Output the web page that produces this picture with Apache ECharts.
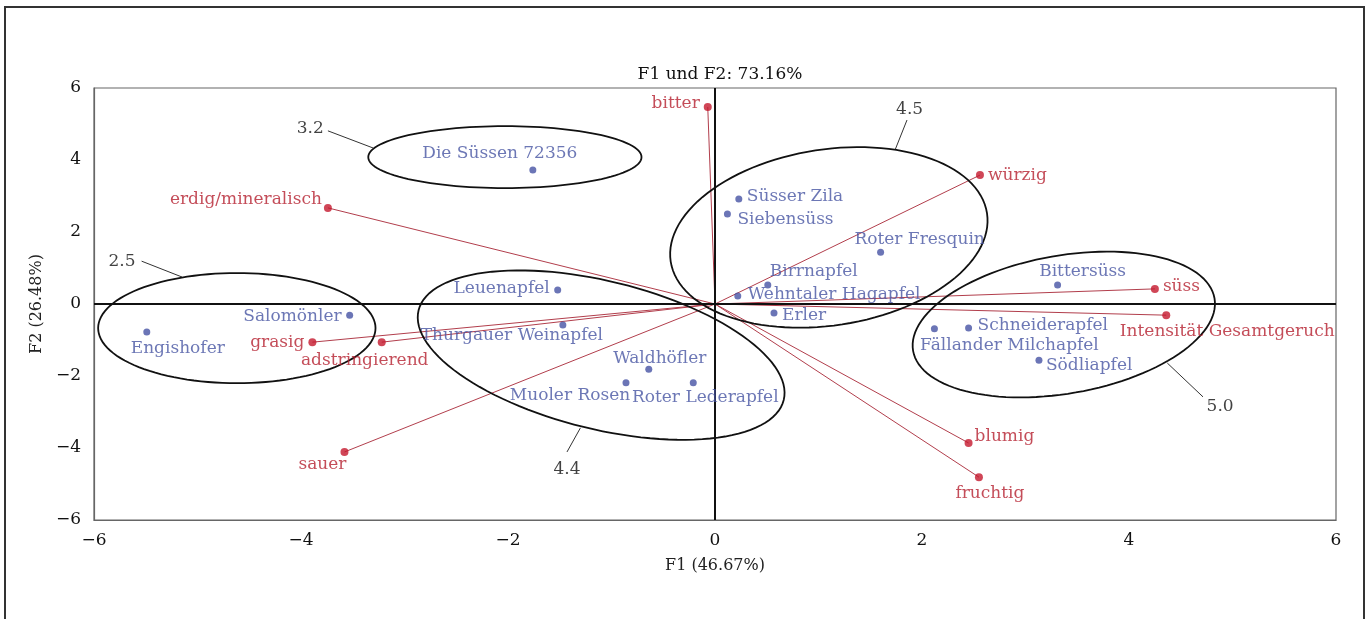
<!DOCTYPE html>
<html>
<head>
<meta charset="utf-8">
<script src="https://cdn.jsdelivr.net/npm/echarts@6/dist/echarts.min.js"></script>
<style>
  html, body { margin: 0; padding: 0; background: #fff; }
  #chart { width: 1371px; height: 619px; }
</style>
</head>
<body>
<div id="chart"></div>
<script>
// Sensory attributes (loadings, scaled) on F1/F2
const attrNames = ['bitter', 'würzig', 'erdig/mineralisch', 'süss', 'Intensität Gesamtgeruch',
  'grasig', 'adstringierend', 'sauer', 'blumig', 'fruchtig'];
const attrF1 = [-0.07, 2.56, -3.74, 4.25, 4.36, -3.89, -3.22, -3.58, 2.45, 2.55];
const attrF2 = [5.47, 3.58, 2.67, 0.42, -0.31, -1.06, -1.06, -4.11, -3.86, -4.81];

// Apple varieties (observations) on F1/F2
const varNames = ['Die Süssen 72356', 'Süsser Zila', 'Siebensüss', 'Roter Fresquin', 'Birrnapfel',
  'Wehntaler Hagapfel', 'Erler', 'Leuenapfel', 'Salomönler', 'Engishofer', 'Thurgauer Weinapfel',
  'Waldhöfler', 'Muoler Rosen', 'Roter Lederapfel', 'Bittersüss', 'Schneiderapfel',
  'Fällander Milchapfel', 'Södliapfel'];
const varF1 = [-1.76, 0.23, 0.12, 1.60, 0.51, 0.22, 0.57, -1.52, -3.53, -5.49, -1.47,
  -0.64, -0.86, -0.21, 3.31, 2.45, 2.12, 3.13];
const varF2 = [3.72, 2.92, 2.50, 1.44, 0.53, 0.22, -0.25, 0.39, -0.31, -0.78, -0.58,
  -1.81, -2.19, -2.19, 0.53, -0.67, -0.69, -1.56];

// Cluster ellipses: centre and two conjugate semi-axis vectors (data units)
const ellipseNames = ['3.2', '2.5', '4.4', '4.5', '5.0'];
const ellipseCentres = [[-2.03, 4.08], [-4.62, -0.67], [-1.10, -1.42], [1.10, 1.85], [3.37, -0.57]];
const ellipseAxisU = [[1.32, 0], [1.34, 0], [1.764, -1.245], [1.528, 0.672], [1.456, 0.731]];
const ellipseAxisV = [[0, 0.86], [0, 1.53], [-0.17, -1.996], [0.129, -2.416], [0.115, -1.888]];
// Cluster value tags and their leader lines
const tagAt = [[-3.91, 4.86], [-5.73, 1.17], [-1.43, -4.61], [1.88, 5.39], [4.88, -2.86]];
const leaderFrom = [[-3.74, 4.81], [-5.54, 1.19], [-1.43, -4.11], [1.855, 5.11], [4.37, -1.64]];
const leaderTo = [[-3.30, 4.33], [-5.15, 0.75], [-1.30, -3.44], [1.74, 4.28], [4.715, -2.58]];

// Axis ticks
const tickMin = -6, tickMax = 6, tickStep = 2;

// Label placement: [align, dx, dy] relative to the marker centre
const attrLabelPos = {
  'bitter': ['right', -8, -4],
  'würzig': ['left', 8, 0],
  'erdig/mineralisch': ['right', -6, -8],
  'süss': ['left', 8, -2],
  'Intensität Gesamtgeruch': ['center', 61, 16],
  'grasig': ['right', -8, 0],
  'adstringierend': ['center', -17, 18],
  'sauer': ['center', -22, 13],
  'blumig': ['left', 6, -6],
  'fruchtig': ['center', 11, 16]
};
const varLabelPos = {
  'Die Süssen 72356': ['center', -33, -17],
  'Süsser Zila': ['left', 8, -2],
  'Siebensüss': ['left', 10, 6],
  'Roter Fresquin': ['center', 39, -13],
  'Birrnapfel': ['left', 2, -13],
  'Wehntaler Hagapfel': ['left', 10, -2],
  'Erler': ['left', 8, 3],
  'Leuenapfel': ['right', -8, -1],
  'Salomönler': ['right', -8, 1],
  'Engishofer': ['center', 31, 16],
  'Thurgauer Weinapfel': ['center', -51, 11],
  'Waldhöfler': ['center', 11, -11],
  'Muoler Rosen': ['center', -56, 13],
  'Roter Lederapfel': ['center', 12, 15],
  'Bittersüss': ['center', 25, -13],
  'Schneiderapfel': ['left', 9, -3],
  'Fällander Milchapfel': ['center', 75, 17],
  'Södliapfel': ['left', 7, 5]
};

const FONT = 'DejaVu Serif';
const FS = 17;
const RED = '#c4182d';
const RED_TEXT = '#b5202f';
const RED_LINE = '#b23e4c';
const BLUE = '#4653a4';
const BLUE_TEXT = '#4755a2';

function labelFor(pos, color) {
  return {
    show: true,
    position: 'inside',
    align: pos[0],
    verticalAlign: 'middle',
    offset: [pos[1], pos[2]],
    color: color,
    fontFamily: FONT,
    fontSize: FS
  };
}

const attrData = attrNames.map((n, i) => ({
  name: n,
  value: [attrF1[i], attrF2[i]],
  label: Object.assign({ formatter: n }, labelFor(attrLabelPos[n], RED_TEXT))
}));
const varData = varNames.map((n, i) => ({
  name: n,
  value: [varF1[i], varF2[i]],
  label: Object.assign({ formatter: n }, labelFor(varLabelPos[n], BLUE_TEXT))
}));
const vectorData = attrNames.map((n, i) => ({ coords: [[0, 0], [attrF1[i], attrF2[i]]] }));
const leaderData = leaderFrom.map((p, i) => ({ coords: [p, leaderTo[i]] }));
const ellipseData = ellipseNames.map((n, i) => [
  ellipseCentres[i][0], ellipseCentres[i][1],
  ellipseAxisU[i][0], ellipseAxisU[i][1],
  ellipseAxisV[i][0], ellipseAxisV[i][1]
]);
const tagData = ellipseNames.map((n, i) => ({ name: n, value: tagAt[i] }));

const minus = v => String(v).replace('-', '\u2212');

const chart = echarts.init(document.getElementById('chart'), null, { renderer: 'canvas' });
chart.setOption({
  animation: false,
  backgroundColor: '#fff',
  title: {
    text: 'F1 und F2: 73.16%',
    left: 715, top: 61, textAlign: 'center',
    textStyle: { fontFamily: FONT, fontSize: 17, fontWeight: 'normal', color: '#111' }
  },
  graphic: [{
    type: 'rect',
    shape: { x: 5, y: 7, width: 1359, height: 640 },
    style: { fill: 'none', stroke: '#333', lineWidth: 2 },
    silent: true
  }],
  grid: {
    left: 94, right: 35, top: 88, bottom: 99,
    show: true, borderColor: '#666', borderWidth: 1.2, backgroundColor: 'transparent'
  },
  xAxis: {
    type: 'value', min: tickMin, max: tickMax, interval: tickStep,
    name: 'F1 (46.67%)', nameLocation: 'middle', nameGap: 38,
    nameTextStyle: { fontFamily: FONT, fontSize: 16, color: '#222' },
    axisLine: { show: true, onZero: false, lineStyle: { color: '#666', width: 1.2 } },
    axisTick: { show: false },
    splitLine: { show: false },
    axisLabel: { formatter: minus, fontFamily: FONT, fontSize: 17, color: '#111', margin: 12 }
  },
  yAxis: {
    type: 'value', min: tickMin, max: tickMax, interval: tickStep,
    name: 'F2 (26.48%)', nameLocation: 'middle', nameGap: 48,
    nameTextStyle: { fontFamily: FONT, fontSize: 16, color: '#222' },
    axisLine: { show: true, onZero: false, lineStyle: { color: '#666', width: 1.2 } },
    axisTick: { show: false },
    splitLine: { show: false },
    axisLabel: { formatter: minus, fontFamily: FONT, fontSize: 17, color: '#111', margin: 13 }
  },
  series: [
    {
      // zero axes through the origin
      type: 'line', data: [], silent: true,
      markLine: {
        symbol: 'none', silent: true, label: { show: false },
        lineStyle: { color: '#111', width: 2, type: 'solid' },
        data: [{ xAxis: 0 }, { yAxis: 0 }]
      }
    },
    {
      type: 'custom', name: 'clusters', silent: true, clip: false,
      data: ellipseData,
      encode: { x: 0, y: 1 },
      renderItem: function (params, api) {
        const cx = api.value(0), cy = api.value(1);
        const ux = api.value(2), uy = api.value(3);
        const vx = api.value(4), vy = api.value(5);
        const pts = [];
        for (let k = 0; k < 120; k++) {
          const t = (k / 120) * Math.PI * 2;
          pts.push(api.coord([cx + ux * Math.cos(t) + vx * Math.sin(t),
                              cy + uy * Math.cos(t) + vy * Math.sin(t)]));
        }
        return {
          type: 'polygon',
          shape: { points: pts },
          style: { fill: 'none', stroke: '#111', lineWidth: 1.8 }
        };
      },
      z: 3
    },
    {
      type: 'lines', coordinateSystem: 'cartesian2d', silent: true,
      data: vectorData,
      lineStyle: { color: RED_LINE, width: 1, opacity: 1 },
      z: 2
    },
    {
      type: 'lines', coordinateSystem: 'cartesian2d', silent: true,
      data: leaderData,
      lineStyle: { color: '#333', width: 1, opacity: 1 },
      z: 2
    },
    {
      type: 'scatter', name: 'tags', silent: true,
      data: tagData, symbolSize: 0,
      label: {
        show: true, position: 'inside', formatter: '{b}',
        fontFamily: FONT, fontSize: 17, color: '#111'
      },
      z: 4
    },
    {
      type: 'scatter', name: 'Attribute', silent: true,
      data: attrData, symbol: 'circle', symbolSize: 8,
      itemStyle: { color: RED },
      z: 5
    },
    {
      type: 'scatter', name: 'Sorten', silent: true,
      data: varData, symbol: 'circle', symbolSize: 7,
      itemStyle: { color: BLUE },
      z: 5
    }
  ]
});
</script>
</body>
</html>
